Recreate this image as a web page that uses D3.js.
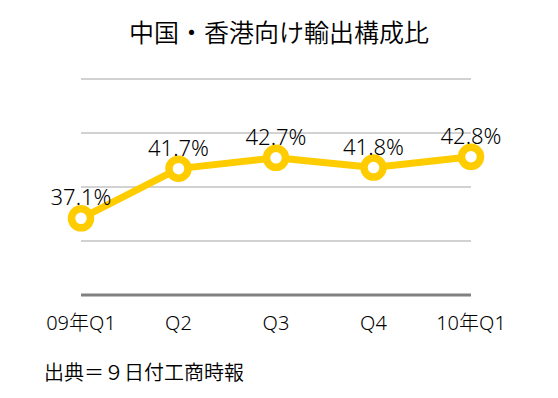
<!DOCTYPE html>
<html>
<head>
<meta charset="utf-8">
<script src="https://cdn.jsdelivr.net/npm/d3@7"></script>
<style>
  body { margin: 0; background: #fff; }
  svg { display: block; font-family: "Noto Sans", "Noto Sans CJK JP", sans-serif; font-weight: 300; }
</style>
</head>
<body>
<svg id="chart"></svg>
<script>
// data
let categories = ['09年Q1', 'Q2', 'Q3', 'Q4', '10年Q1'];
let share = [37.1, 41.7, 42.7, 41.8, 42.8];
let y_ticks = [30, 35, 40, 45, 50];

let title_text = '中国・香港向け輸出構成比';
let source_text = '出典＝９日付工商時報';

let width = 558, height = 398;
let line_color = '#ffcc00';
let text_color = '#000';

let svg = d3.select('#chart')
  .attr('width', width)
  .attr('height', height);

let x = d3.scalePoint()
  .domain(categories)
  .range([81, 471]);

let y = d3.scaleLinear()
  .domain([30, 50])
  .range([295, 79]);

/*
 * Title.
 */
svg.append('text')
  .attr('x', width / 2)
  .attr('y', 42)
  .attr('text-anchor', 'middle')
  .style('font-family', '"Noto Sans CJK JP", sans-serif')
  .style('font-weight', 350)
  .style('font-size', '25px')
  .style('fill', text_color)
  .text(title_text);

/*
 * Grid lines, bottom one is the axis.
 */
svg.append('g')
  .selectAll('line')
  .data(y_ticks)
  .join('line')
  .attr('x1', x.range()[0])
  .attr('x2', x.range()[1])
  .attr('y1', d => y(d))
  .attr('y2', d => y(d))
  .style('stroke', d => d == y_ticks[0] ? '#808080' : '#d2d2d2')
  .style('stroke-width', d => d == y_ticks[0] ? 3 : 2);

/*
 * Category labels.
 */
svg.append('g')
  .selectAll('text')
  .data(categories)
  .join('text')
  .attr('x', d => x(d))
  .attr('y', 330)
  .attr('text-anchor', 'middle')
  .style('font-size', '20px')
  .style('fill', text_color)
  .text(d => d);

/*
 * The line and its markers.
 */
let pts = categories.map((c, i) => [x(c), y(share[i])]);

svg.append('path')
  .attr('d', d3.line()(pts))
  .style('fill', 'none')
  .style('stroke', line_color)
  .style('stroke-width', 7)
  .style('stroke-linejoin', 'round');

svg.append('g')
  .selectAll('circle')
  .data(pts)
  .join('circle')
  .attr('cx', d => d[0])
  .attr('cy', d => d[1])
  .attr('r', 9.5)
  .style('fill', 'white')
  .style('stroke', line_color)
  .style('stroke-width', 7.5);

svg.append('g')
  .selectAll('text')
  .data(share)
  .join('text')
  .attr('x', (d, i) => x(categories[i]))
  .attr('y', d => y(d) - 13)
  .attr('text-anchor', 'middle')
  .style('font-size', '22px')
  .style('fill', text_color)
  .text(d => d.toFixed(1) + '%');

/*
 * Source note.
 */
svg.append('text')
  .attr('x', 44)
  .attr('y', 380)
  .style('font-family', '"Noto Sans CJK JP", sans-serif')
  .style('font-weight', 350)
  .style('font-size', '20px')
  .style('fill', text_color)
  .text(source_text);
</script>
</body>
</html>
